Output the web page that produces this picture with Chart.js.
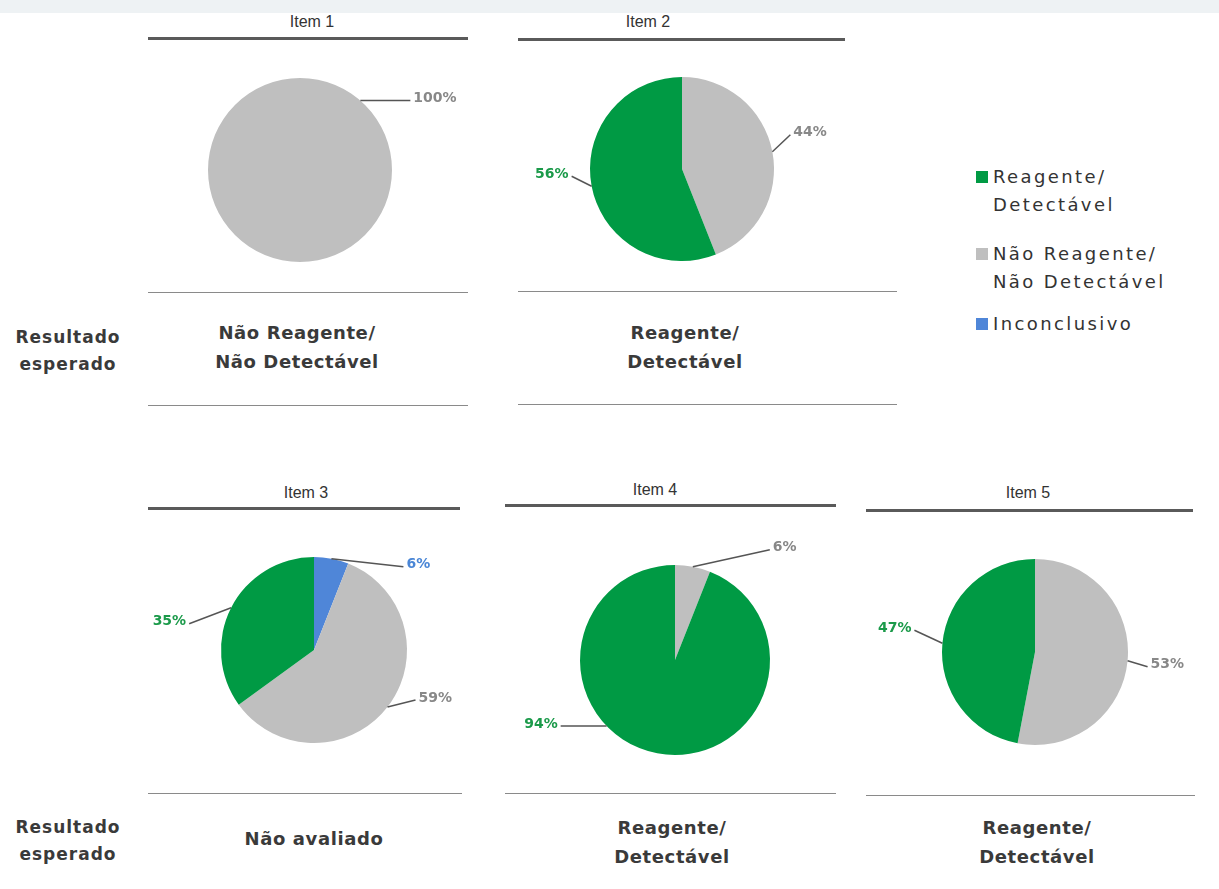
<!DOCTYPE html>
<html>
<head>
<meta charset="utf-8">
<script src="https://cdn.jsdelivr.net/npm/chart.js@4.4.0/dist/chart.umd.min.js"></script>
<style>
  body { margin: 0; width: 1219px; height: 889px; background: #fff; position: relative; overflow: hidden; font-family: 'DejaVu Sans', sans-serif; }
  .band { position: absolute; left: 0; top: 0; width: 1219px; height: 13px; background: #eef2f4; }
  .title { position: absolute; font-family: 'Liberation Sans Narrow', 'Liberation Sans', sans-serif; font-size: 16px; color: #333; transform: translate(-50%, -50%); white-space: nowrap; }
  .rule { position: absolute; height: 3px; background: #5a5a5a; }
  .thin { position: absolute; height: 1px; background: #8a8a8a; }
  .res { position: absolute; font-weight: bold; font-size: 18px; letter-spacing: 0.6px; color: #3a3a3a; text-align: center; transform: translateX(-50%); line-height: 29px; white-space: nowrap; }
  .side { position: absolute; font-weight: bold; font-size: 17px; letter-spacing: 1px; color: #3a3a3a; text-align: center; transform: translateX(-50%); line-height: 27px; white-space: nowrap; }
  .legend { position: absolute; left: 976px; top: 163px; font-size: 18px; letter-spacing: 2.4px; color: #333; line-height: 27.5px; }
  .legend .row { position: relative; padding-left: 17px; }
  .legend .sw { position: absolute; left: 0; top: 8px; width: 12px; height: 12px; }
  canvas { position: absolute; }
</style>
</head>
<body>
<div class="band"></div>
<div id="page"></div>
<div class="legend" id="legend"></div>
<script>
// categories and colours
const categories = ['Reagente/\nDetectável', 'Não Reagente/\nNão Detectável', 'Inconclusivo'];
const catColors = ['#009a44', '#bfbfbf', '#4f86d8'];
const labelColors = ['#1b9a4a', '#888888', '#4a86d6'];

const items = ['Item 1', 'Item 2', 'Item 3', 'Item 4', 'Item 5'];
const expected = ['Não Reagente/\nNão Detectável', 'Reagente/\nDetectável', 'Não avaliado', 'Reagente/\nDetectável', 'Reagente/\nDetectável'];

// slices in clockwise order from 12 o'clock: category index + percent
const item1Cats = [1];       const item1Values = [100];
const item2Cats = [1, 0];    const item2Values = [44, 56];
const item3Cats = [2, 1, 0]; const item3Values = [6, 59, 35];
const item4Cats = [1, 0];    const item4Values = [6, 94];
const item5Cats = [1, 0];    const item5Values = [53, 47];

// layout per panel
const panels = [
  { cats: item1Cats, values: item1Values, cx: 300, cy: 170, r: 92,
    titleX: 312, titleY: 22, rule: [148, 468, 37], thin: [148, 468, 292, 405], resX: 297, resY: 318,
    angles: [41], offsets: [[50, 0]] },
  { cats: item2Cats, values: item2Values, cx: 682, cy: 169, r: 92,
    titleX: 648, titleY: 22, rule: [518, 845, 38], thin: [518, 897, 291, 404], resX: 685, resY: 318,
    angles: [null, null], offsets: [[18, -17], [-20, -10]] },
  { cats: item3Cats, values: item3Values, cx: 314, cy: 650, r: 93,
    titleX: 306, titleY: 493, rule: [148, 460, 507], thin: [148, 462, 793], resX: 314, resY: 824,
    angles: [null, null, null], offsets: [[72, 8], [28, -7], [-42, 16]] },
  { cats: item4Cats, values: item4Values, cx: 675, cy: 660, r: 95,
    titleX: 655, titleY: 490, rule: [505, 836, 504], thin: [505, 836, 793], resX: 672, resY: 813,
    angles: [null, 226], offsets: [[77, -17], [-46, 0]] },
  { cats: item5Cats, values: item5Values, cx: 1035, cy: 652, r: 93,
    titleX: 1028, titleY: 493, rule: [866, 1193, 509], thin: [866, 1195, 795], resX: 1037, resY: 813,
    angles: [null, null], offsets: [[20, 6], [-28, -13]] }
];
const legendGaps = [22, 15, 0];

const page = document.getElementById('page');
function add(cls, html, style) {
  const d = document.createElement('div');
  d.className = cls;
  d.innerHTML = html;
  Object.assign(d.style, style);
  page.appendChild(d);
  return d;
}

// legend
const legend = document.getElementById('legend');
categories.forEach((c, i) => {
  const row = document.createElement('div');
  row.className = 'row';
  row.style.marginBottom = legendGaps[i] + 'px';
  row.innerHTML = '<span class="sw" style="background:' + catColors[i] + '"></span>' + c.replace('\n', '<br>');
  legend.appendChild(row);
});

// "Resultado esperado" side labels
add('side', 'Resultado<br>esperado', { left: '68px', top: '324px' });
add('side', 'Resultado<br>esperado', { left: '68px', top: '814px' });

// leader-line labels drawn outside each slice
const leaderLabels = {
  id: 'leaderLabels',
  afterDatasetsDraw(chart, args, opts) {
    const ctx = chart.ctx;
    const meta = chart.getDatasetMeta(0);
    const ds = chart.data.datasets[0];
    meta.data.forEach((arc, i) => {
      const p = arc.getProps(['x', 'y', 'startAngle', 'endAngle', 'outerRadius'], true);
      const a = opts.angles[i] != null ? (opts.angles[i] - 90) * Math.PI / 180 : (p.startAngle + p.endAngle) / 2;
      const x0 = p.x + Math.cos(a) * p.outerRadius;
      const y0 = p.y + Math.sin(a) * p.outerRadius;
      const [dx, dy] = opts.offsets[i];
      const x1 = x0 + dx, y1 = y0 + dy;
      ctx.save();
      ctx.strokeStyle = '#555';
      ctx.lineWidth = 1.5;
      ctx.beginPath();
      ctx.moveTo(x0, y0);
      ctx.lineTo(x1, y1);
      ctx.stroke();
      ctx.font = 'bold 14px "DejaVu Sans", sans-serif';
      ctx.fillStyle = opts.colors[i];
      ctx.textBaseline = 'middle';
      ctx.textAlign = dx >= 0 ? 'left' : 'right';
      ctx.fillText(ds.data[i] + '%', x1 + (dx >= 0 ? 3 : -3), y1 - 2);
      ctx.restore();
    });
  }
};

panels.forEach((pn, k) => {
  add('title', items[k], { left: pn.titleX + 'px', top: pn.titleY + 'px' });
  add('rule', '', { left: pn.rule[0] + 'px', top: pn.rule[2] + 'px', width: (pn.rule[1] - pn.rule[0]) + 'px' });
  for (let j = 2; j < pn.thin.length; j++) {
    add('thin', '', { left: pn.thin[0] + 'px', top: pn.thin[j] + 'px', width: (pn.thin[1] - pn.thin[0]) + 'px' });
  }
  add('res', expected[k].replace('\n', '<br>'), { left: pn.resX + 'px', top: pn.resY + 'px' });

  const halfW = 195, padV = 40;
  const cv = document.createElement('canvas');
  cv.width = halfW * 2;
  cv.height = pn.r * 2 + padV * 2;
  cv.style.left = (pn.cx - halfW) + 'px';
  cv.style.top = (pn.cy - pn.r - padV) + 'px';
  document.body.appendChild(cv);

  new Chart(cv.getContext('2d'), {
    type: 'pie',
    data: {
      labels: pn.cats.map(c => categories[c]),
      datasets: [{
        data: pn.values,
        backgroundColor: pn.cats.map(c => catColors[c]),
        borderWidth: 0
      }]
    },
    options: {
      responsive: false,
      animation: false,
      layout: { padding: { left: halfW - pn.r, right: halfW - pn.r, top: padV, bottom: padV } },
      plugins: {
        legend: { display: false },
        tooltip: { enabled: false },
        leaderLabels: { angles: pn.angles, offsets: pn.offsets, colors: pn.cats.map(c => labelColors[c]) }
      }
    },
    plugins: [leaderLabels]
  });
});
</script>
</body>
</html>
